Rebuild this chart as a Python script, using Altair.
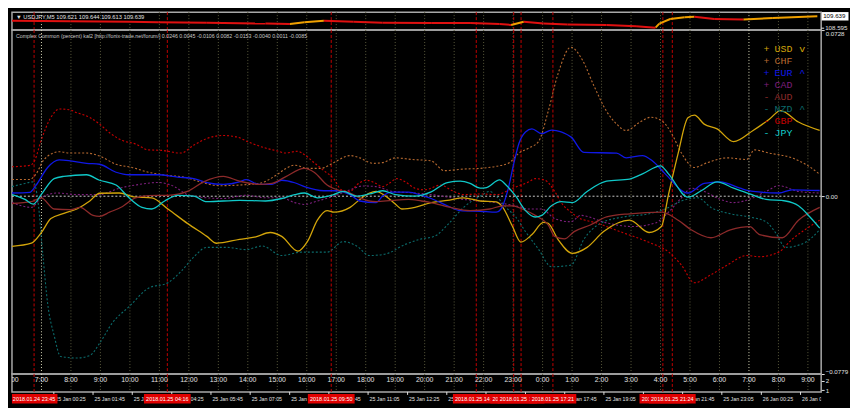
import altair as alt
import numpy as np
import pandas as pd

# ---------------- data: x = hours since 2018-01-25 00:00 (server time) ----------------
USD = [(-1.00,-0.0220),(-0.34,-0.0206),(-0.01,-0.0161),(0.32,-0.0098),(0.76,-0.0075),(1.20,-0.0056),(1.64,-0.0021),(1.97,0.0013),(2.64,0.0014),(3.19,-0.0004),(3.74,-0.0007),(4.29,-0.0056),(4.95,-0.0119),(5.61,-0.0176),(5.94,-0.0206),(6.72,-0.0189),(7.27,-0.0178),(7.76,-0.0159),(8.15,-0.0176),(8.70,-0.0241),(9.03,-0.0197),(9.36,-0.0105),(9.69,-0.0063),(9.92,-0.0070),(10.47,-0.0049),(10.80,-0.0014),(11.13,0.0014),(11.35,0.0021),(11.68,0.0000),(12.01,-0.0035),(12.23,-0.0056),(12.67,-0.0049),(13.22,-0.0028),(13.77,-0.0018),(14.32,-0.0007),(14.88,-0.0021),(15.43,-0.0025),(15.65,-0.0049),(15.98,-0.0133),(16.26,-0.0201),(16.64,-0.0168),(17.03,-0.0115),(17.19,-0.0119),(17.52,-0.0189),(18.01,-0.0250),(18.51,-0.0224),(19.07,-0.0155),(19.95,-0.0105),(20.61,-0.0159),(21.03,-0.0133),(21.27,0.0007),(21.60,0.0189),(21.93,0.0344),(22.15,0.0355),(22.48,0.0316),(22.92,0.0295),(23.48,0.0239),(24.14,0.0288),(24.69,0.0337),(25.07,0.0375),(25.68,0.0325),(26.40,0.0288)]
CHF = [(-1.00,0.0073),(-0.40,0.0073),(-0.18,0.0098),(0.09,0.0161),(0.60,0.0195),(0.98,0.0189),(1.53,0.0189),(1.97,0.0176),(2.53,0.0140),(3.07,0.0126),(3.63,0.0105),(4.29,0.0091),(4.84,0.0084),(5.38,0.0063),(6.04,0.0046),(6.72,0.0049),(7.38,0.0056),(8.03,0.0098),(8.26,0.0119),(8.59,0.0136),(9.03,0.0122),(9.47,0.0122),(9.91,0.0147),(10.47,0.0178),(10.80,0.0168),(11.24,0.0144),(11.57,0.0147),(12.01,0.0168),(12.56,0.0161),(13.22,0.0155),(13.66,0.0112),(14.32,0.0119),(14.88,0.0122),(15.43,0.0131),(15.87,0.0147),(16.20,0.0189),(16.53,0.0211),(16.86,0.0239),(17.19,0.0372),(17.52,0.0535),(17.96,0.0653),(18.35,0.0597),(18.74,0.0484),(19.17,0.0372),(19.51,0.0316),(19.84,0.0288),(20.28,0.0323),(20.67,0.0346),(21.05,0.0330),(21.38,0.0274),(21.71,0.0189),(22.15,0.0126),(22.59,0.0147),(23.26,0.0168),(23.92,0.0161),(24.19,0.0203),(24.69,0.0189),(25.46,0.0168),(26.01,0.0133),(26.40,0.0096)]
EUR = [(-1.00,0.0014),(-0.40,0.0017),(-0.18,0.0049),(0.21,0.0126),(0.60,0.0159),(0.98,0.0155),(1.53,0.0144),(1.97,0.0140),(2.53,0.0105),(2.97,0.0094),(3.96,0.0094),(4.62,0.0084),(5.17,0.0077),(5.61,0.0060),(6.17,0.0052),(6.72,0.0063),(6.94,0.0073),(7.38,0.0052),(7.82,0.0052),(8.15,0.0070),(8.59,0.0059),(8.92,0.0042),(9.58,0.0024),(10.02,0.0024),(10.47,0.0007),(10.80,-0.0021),(11.35,-0.0028),(11.57,0.0000),(11.90,0.0018),(12.45,0.0018),(12.89,0.0004),(13.22,-0.0010),(13.77,-0.0042),(14.21,-0.0063),(14.88,-0.0066),(15.43,-0.0070),(15.59,-0.0056),(15.81,0.0021),(16.03,0.0147),(16.20,0.0232),(16.42,0.0281),(16.64,0.0295),(16.97,0.0274),(17.30,0.0290),(17.96,0.0260),(18.40,0.0192),(19.51,0.0189),(19.84,0.0168),(20.39,0.0178),(20.72,0.0155),(21.16,0.0098),(21.93,0.0014),(22.48,0.0056),(23.04,0.0063),(23.70,0.0035),(24.14,0.0021),(25.02,0.0014),(25.46,0.0028),(26.40,0.0025)]
CAD = [(-1.00,-0.0028),(-0.34,-0.0049),(-0.01,-0.0007),(0.54,0.0014),(1.20,0.0007),(1.97,0.0007),(2.64,0.0035),(3.19,0.0049),(3.96,0.0060),(4.51,0.0042),(4.95,0.0007),(5.61,-0.0007),(6.17,-0.0010),(6.94,0.0004),(7.60,-0.0007),(8.15,-0.0007),(8.59,-0.0028),(8.92,-0.0036),(9.36,-0.0021),(9.91,0.0000),(10.47,0.0028),(10.91,0.0045),(11.35,0.0042),(11.90,0.0021),(12.67,0.0014),(13.22,0.0007),(14.32,-0.0014),(15.43,-0.0028),(16.09,-0.0042),(16.53,-0.0056),(16.97,-0.0056),(17.41,-0.0098),(17.96,-0.0112),(18.29,-0.0084),(19.17,-0.0117),(20.06,-0.0133),(20.83,-0.0117),(21.27,-0.0070),(21.71,-0.0007),(22.04,0.0035),(22.48,0.0021),(23.04,-0.0014),(23.48,-0.0028),(24.14,-0.0007),(24.58,0.0021),(25.02,0.0046),(25.68,0.0021),(26.40,0.0014)]
AUD = [(-1.00,-0.0032),(-0.34,-0.0024),(-0.01,-0.0007),(0.43,-0.0056),(0.98,-0.0059),(1.31,-0.0049),(1.75,-0.0084),(1.97,-0.0088),(2.31,-0.0070),(2.75,-0.0045),(3.19,-0.0007),(3.63,0.0003),(4.29,0.0004),(4.95,0.0021),(5.50,0.0063),(6.17,0.0087),(6.72,0.0066),(7.38,0.0052),(7.82,0.0056),(8.26,0.0084),(8.92,0.0122),(9.25,0.0105),(9.69,0.0049),(10.14,0.0024),(10.47,0.0014),(10.80,-0.0007),(11.35,-0.0024),(11.90,-0.0018),(12.45,-0.0014),(12.89,-0.0021),(13.22,-0.0028),(13.88,-0.0049),(14.54,-0.0063),(15.21,-0.0056),(15.65,-0.0042),(15.98,-0.0042),(16.31,-0.0056),(16.75,-0.0084),(17.19,-0.0126),(17.41,-0.0176),(17.74,-0.0187),(18.07,-0.0155),(18.62,-0.0126),(19.17,-0.0091),(19.95,-0.0077),(21.03,-0.0070),(21.60,-0.0105),(22.04,-0.0147),(22.71,-0.0182),(23.37,-0.0147),(24.03,-0.0133),(24.36,-0.0168),(25.13,-0.0182),(25.68,-0.0105),(26.40,-0.0049)]
NZD = [(-1.00,0.0042),(-0.56,0.0056),(-0.28,0.0063),(-0.12,-0.0021),(0.05,-0.0260),(0.21,-0.0470),(0.43,-0.0610),(0.65,-0.0702),(1.20,-0.0709),(1.64,-0.0698),(1.97,-0.0645),(2.41,-0.0554),(2.97,-0.0484),(3.63,-0.0403),(4.29,-0.0379),(4.73,-0.0330),(5.17,-0.0266),(5.61,-0.0224),(6.28,-0.0224),(6.94,-0.0234),(7.49,-0.0218),(8.15,-0.0260),(8.81,-0.0245),(9.69,-0.0245),(10.24,-0.0199),(10.69,-0.0218),(11.13,-0.0260),(11.68,-0.0253),(12.34,-0.0211),(12.89,-0.0187),(13.33,-0.0176),(13.77,-0.0126),(14.32,-0.0049),(14.88,0.0000),(15.21,0.0021),(15.43,0.0000),(15.76,-0.0049),(16.09,-0.0091),(16.42,-0.0155),(16.86,-0.0232),(17.30,-0.0309),(17.96,-0.0302),(18.40,-0.0189),(18.96,-0.0119),(19.73,-0.0091),(20.61,-0.0077),(21.16,-0.0056),(21.71,-0.0021),(22.26,-0.0007),(22.71,-0.0049),(23.37,-0.0077),(24.03,-0.0091),(24.58,-0.0112),(24.91,-0.0161),(25.24,-0.0224),(25.90,-0.0203),(26.40,-0.0147)]
GBP = [(-1.00,0.0129),(-0.40,0.0135),(-0.23,0.0156),(-0.01,0.0245),(0.32,0.0345),(0.60,0.0382),(0.93,0.0379),(1.20,0.0366),(1.64,0.0345),(1.97,0.0316),(2.31,0.0278),(2.75,0.0244),(3.19,0.0229),(3.63,0.0203),(4.07,0.0201),(4.73,0.0189),(5.17,0.0224),(5.61,0.0253),(6.17,0.0266),(6.61,0.0260),(7.05,0.0236),(7.60,0.0211),(8.04,0.0197),(8.26,0.0189),(8.69,0.0197),(8.92,0.0182),(9.25,0.0147),(9.58,0.0112),(9.91,0.0077),(10.18,0.0028),(10.47,0.0021),(10.69,0.0049),(11.02,0.0070),(11.35,0.0056),(11.57,0.0042),(11.79,0.0056),(12.06,0.0077),(12.34,0.0063),(12.67,0.0035),(13.00,0.0028),(13.55,0.0049),(13.88,0.0028),(14.32,0.0007),(14.88,0.0010),(15.43,0.0007),(15.98,0.0035),(16.53,0.0063),(16.75,0.0077),(17.08,0.0070),(17.41,0.0021),(17.63,-0.0028),(17.96,-0.0070),(18.18,-0.0091),(18.85,-0.0118),(19.73,-0.0160),(20.61,-0.0202),(21.27,-0.0244),(21.71,-0.0302),(22.15,-0.0379),(22.71,-0.0344),(23.26,-0.0302),(23.92,-0.0260),(24.36,-0.0265),(25.02,-0.0244),(25.46,-0.0189),(25.90,-0.0147),(26.40,-0.0105)]
JPY = [(-1.00,0.0007),(-0.56,-0.0014),(-0.28,-0.0035),(-0.01,0.0007),(0.43,0.0077),(0.76,0.0087),(1.53,0.0094),(1.97,0.0070),(2.53,0.0049),(2.97,-0.0007),(3.41,-0.0049),(3.74,-0.0056),(4.18,-0.0021),(4.62,0.0004),(5.17,0.0000),(5.61,-0.0024),(6.72,-0.0018),(7.60,-0.0021),(8.15,-0.0010),(8.59,0.0007),(8.92,0.0014),(9.36,-0.0007),(9.91,0.0007),(10.24,0.0021),(10.69,0.0000),(11.13,0.0010),(11.57,0.0024),(12.01,0.0007),(12.67,0.0000),(13.22,0.0019),(13.77,0.0060),(14.21,0.0066),(14.54,0.0056),(14.88,0.0035),(15.10,0.0038),(15.54,0.0072),(15.76,0.0049),(16.09,0.0000),(16.42,-0.0063),(16.75,-0.0091),(16.97,-0.0084),(17.30,-0.0042),(17.63,-0.0024),(18.01,-0.0028),(18.51,0.0021),(19.17,0.0066),(19.95,0.0075),(20.39,0.0098),(21.00,0.0133),(21.27,0.0098),(21.93,-0.0004),(22.38,0.0024),(22.92,0.0063),(23.48,0.0035),(24.03,0.0010),(24.58,-0.0014),(25.24,-0.0021),(25.68,-0.0042),(26.07,-0.0091),(26.40,-0.0140)]

PRICE = [(-1.00,109.24),(0.98,109.20),(2.97,109.16),(3.96,109.12),(5.61,109.08),(7.60,109.00),(8.43,108.96),(8.92,109.12),(9.58,109.24),(10.58,109.16),(11.57,109.08),(13.22,109.05),(14.54,109.04),(15.54,108.96),(15.93,108.88),(16.36,109.16),(17.03,109.00),(17.85,108.92),(19.17,108.88),(20.17,108.76),(20.83,108.64),(20.96,109.00),(21.33,109.40),(21.82,109.56),(22.15,109.60),(22.82,109.40),(23.81,109.36),(24.81,109.48),(25.46,109.56),(26.32,109.639)]
PRICE_SYMBOL = "USDJPY,M5"
PRICE_OHLC = [109.621, 109.644, 109.613, 109.639]
PRICE_LAST = 109.639
PRICE_LOW = 108.595
PRICE_RANGE = [108.43, 110.00]

CURRENCIES = ["USD", "CHF", "EUR", "CAD", "AUD", "NZD", "GBP", "JPY"]
SERIES = [USD, CHF, EUR, CAD, AUD, NZD, GBP, JPY]
COLORS = ["#D2A40A", "#B86A30", "#1018E6", "#7D1F7D", "#8C2A2A", "#0B6B6B", "#C80000", "#10C8C8"]
DOTTED = ["CHF", "CAD", "NZD", "GBP"]
SIGNS = ["+", "+", "+", "+", "-", "-", "-", "-"]
SUFFIX = ["v", "", "^", "", "", "^", "", ""]
HEADER = "Complex Common (percent) kal2 [http://fonix-trade.net/forum/]"
HEADER_VALUES = ["0.0246", "0.0045", "-0.0106", "0.0082", "-0.0153", "-0.0040", "0.0011", "-0.0085"]
IND_MIN, IND_MAX = -0.0779, 0.0728

HOUR_TICKS = list(range(-1, 27))
HOUR_LABELS = [f"{(t + 7) % 24}:00" for t in HOUR_TICKS]
SESSION_HOURS = [0, 24]

EVENT_H = [-0.25, 4.27, 9.83, 14.75, 16.02, 16.27, 17.35, 21.08, 21.40]
EVENT_LABELS = ["2018.01.24 23:45", "2018.01.25 04:16", "2018.01.25 09:50", "2018.01.25 14:45",
                "2018.01.25 16:01", "2018.01.25 16:16", "2018.01.25 17:21", "2018.01.25 21:05",
                "2018.01.25 21:24"]

DATE_H = [0.42, 1.75, 3.08, 4.42, 5.75, 7.08, 8.42, 9.75, 11.08, 12.42, 13.75, 15.08, 16.42,
          17.75, 19.08, 20.42, 21.75, 23.08, 24.42, 25.75]
DATE_LABELS = ["25 Jan 00:25", "25 Jan 01:45", "25 Jan 03:05", "25 Jan 04:25", "25 Jan 05:45",
               "25 Jan 07:05", "25 Jan 08:25", "25 Jan 09:45", "25 Jan 11:05", "25 Jan 12:25",
               "25 Jan 13:45", "25 Jan 15:05", "25 Jan 16:25", "25 Jan 17:45", "25 Jan 19:05",
               "25 Jan 20:25", "25 Jan 21:45", "25 Jan 23:05", "26 Jan 00:25", "26 Jan 01:45"]

# ---------------- layout ----------------
W = 814
H_TOP, H_IND, H_HOUR, H_DATE = 18, 346, 18, 14
FONT = "Liberation Sans"
TXT = "#E0E0E0"

XS = alt.Scale(domain=[-1.0, 26.45], nice=False, zero=False)


def X(field="h"):
    return alt.X(f"{field}:Q", scale=XS, axis=None)


grid_df = pd.DataFrame({"h": HOUR_TICKS[1:], "light": [t in SESSION_HOURS for t in HOUR_TICKS[1:]]})
event_df = pd.DataFrame({"h": EVENT_H, "label": EVENT_LABELS, "i": range(len(EVENT_H))})


def grid_layers():
    g1 = alt.Chart(grid_df).transform_filter("!datum.light").mark_rule(
        color="#5A5A3C", strokeDash=[1, 2], strokeWidth=1).encode(x=X())
    g2 = alt.Chart(grid_df).transform_filter("datum.light").mark_rule(
        color="#D8D8B8", strokeDash=[1, 2], strokeWidth=1).encode(x=X())
    ev = alt.Chart(event_df).mark_rule(color="#C00000", strokeDash=[3, 2], strokeWidth=1).encode(x=X())
    return [g1, g2, ev]


# ---- price panel ----
p = pd.DataFrame(PRICE, columns=["h", "p"])
seg = pd.DataFrame({"h": p.h.values[:-1], "h2": p.h.values[1:], "p": p.p.values[:-1], "p2": p.p.values[1:]})
seg["up"] = seg.p2 >= seg.p
PS = alt.Scale(domain=PRICE_RANGE, nice=False, zero=False)
price_up = alt.Chart(seg).transform_filter("datum.up").mark_rule(strokeWidth=2, color="#F0A000").encode(
    x=X(), x2="h2:Q", y=alt.Y("p:Q", scale=PS, axis=None), y2="p2:Q")
price_dn = alt.Chart(seg).transform_filter("!datum.up").mark_rule(strokeWidth=2, color="#E01010").encode(
    x=X(), x2="h2:Q", y=alt.Y("p:Q", scale=PS, axis=None), y2="p2:Q")
title_txt = "\u25bc " + PRICE_SYMBOL + "  " + " ".join(f"{v:.3f}" for v in PRICE_OHLC)
price_title = alt.Chart(pd.DataFrame({"t": [title_txt]})).mark_text(
    align="left", baseline="middle", fontSize=5.8, font=FONT, color=TXT).encode(
    x=alt.value(4), y=alt.value(4.5), text="t:N")
lab_df = pd.DataFrame({"p": [PRICE_LAST], "t": [f"{PRICE_LAST:.3f}"]})
low_df = pd.DataFrame({"p": [PRICE_LOW], "t": [f"{PRICE_LOW:.3f}"]})
last_box = alt.Chart(lab_df).mark_tick(orient="vertical", thickness=27, size=8.5, color="#FFFFFF", opacity=1).encode(
    x=alt.value(W + 14), y=alt.Y("p:Q", scale=PS, axis=None))
last_txt = alt.Chart(lab_df).mark_text(align="left", baseline="middle", fontSize=6.2, font=FONT, color="#000000").encode(
    x=alt.value(W + 2), y=alt.Y("p:Q", scale=PS, axis=None), text="t:N")
low_tick = alt.Chart(low_df).mark_rule(color=TXT).encode(
    x=alt.value(W), x2=alt.value(W + 3), y=alt.Y("p:Q", scale=PS, axis=None))
low_txt = alt.Chart(low_df).mark_text(align="left", baseline="middle", fontSize=6.2, font=FONT, color=TXT).encode(
    x=alt.value(W + 4), y=alt.Y("p:Q", scale=PS, axis=None), text="t:N")
top = alt.layer(*grid_layers(), price_up, price_dn, price_title, last_box, last_txt, low_tick, low_txt).properties(
    width=W, height=H_TOP)

# ---- indicator panel ----
rows = []
for cur, pts in zip(CURRENCIES, SERIES):
    for h, v in pts:
        rows.append({"cur": cur, "h": h, "v": v})
ind_df = pd.DataFrame(rows)
IS = alt.Scale(domain=[IND_MIN, IND_MAX], nice=False, zero=False)
CS = alt.Scale(domain=CURRENCIES, range=COLORS)
SOLID = [c for c in CURRENCIES if c not in DOTTED]

ind_axis = alt.Axis(orient="right", values=[IND_MIN, 0, IND_MAX], labelFlush=True,
                    labelExpr="datum.value == 0 ? '0.00' : format(datum.value, '.4f')",
                    labelColor=TXT, labelFontSize=6.2, labelFont=FONT, tickSize=3, tickColor=TXT,
                    domain=False, grid=False, labelPadding=1, title=None)
zero_line = alt.Chart(pd.DataFrame({"v": [0.0]})).mark_rule(color="#C8C8C8", strokeDash=[2, 2]).encode(
    y=alt.Y("v:Q", scale=IS, axis=ind_axis))
lines_dot = alt.Chart(ind_df).transform_filter(alt.FieldOneOfPredicate(field="cur", oneOf=DOTTED)).mark_line(
    strokeWidth=1.1, strokeDash=[2, 2], interpolate="monotone").encode(
    x=X(), y=alt.Y("v:Q", scale=IS, axis=None), color=alt.Color("cur:N", scale=CS, legend=None))
lines_solid = alt.Chart(ind_df).transform_filter(alt.FieldOneOfPredicate(field="cur", oneOf=SOLID)).mark_line(
    strokeWidth=1.3, interpolate="monotone").encode(
    x=X(), y=alt.Y("v:Q", scale=IS, axis=None), color=alt.Color("cur:N", scale=CS, legend=None))
header = alt.Chart(pd.DataFrame({"t": [HEADER + " " + " ".join(HEADER_VALUES)]})).mark_text(
    align="left", baseline="middle", fontSize=5.3, font=FONT, color="#C8C8C8").encode(
    x=alt.value(4), y=alt.value(6), text="t:N")

leg_df = pd.DataFrame({"li": range(len(CURRENCIES)), "cur": CURRENCIES, "sign": SIGNS, "suffix": SUFFIX})
LY = alt.Y("li:Q", scale=alt.Scale(domain=[0, 7], range=[19.2, 103.5], nice=False, zero=False), axis=None)
leg_common = dict(align="left", baseline="middle", fontSize=10, font="Liberation Mono")
leg_sign = alt.Chart(leg_df).mark_text(**leg_common).encode(
    x=alt.value(756), y=LY, text="sign:N", color=alt.Color("cur:N", scale=CS, legend=None))
leg_name = alt.Chart(leg_df).mark_text(**leg_common).encode(
    x=alt.value(767), y=LY, text="cur:N", color=alt.Color("cur:N", scale=CS, legend=None))
leg_suf = alt.Chart(leg_df).mark_text(**leg_common).encode(
    x=alt.value(792), y=LY, text="suffix:N", color=alt.Color("cur:N", scale=CS, legend=None))

ind = alt.layer(*grid_layers(), zero_line, lines_dot, lines_solid, header, leg_sign, leg_name, leg_suf).resolve_scale(
    y="independent").properties(width=W, height=H_IND)

# ---- hour panel ----
HS = alt.Scale(domain=[1, 2], range=[16.3, 6.5], nice=False, zero=False)
hour_df = pd.DataFrame({"h": HOUR_TICKS, "label": HOUR_LABELS})
hour_axis = alt.Axis(orient="right", values=[1, 2], format="d", labelColor=TXT, labelFontSize=6.2, labelFont=FONT,
                     tickSize=3, tickColor=TXT, domain=False, grid=False, labelPadding=1, title=None,
                     labelBaseline="middle")
hour_txt = alt.Chart(hour_df).mark_text(baseline="middle", fontSize=7, font=FONT, color=TXT, clip=True).encode(
    x=X(), y=alt.YDatum(2, scale=HS, axis=hour_axis), text="label:N")
hour = alt.layer(*grid_layers(), hour_txt).properties(width=W, height=H_HOUR)

# ---- date strip ----
date_df = pd.DataFrame({"h": DATE_H, "label": DATE_LABELS})
d_tick = alt.Chart(date_df).mark_rule(color=TXT).encode(x=X(), y=alt.value(0), y2=alt.value(3))
d_txt = alt.Chart(date_df).mark_text(align="left", baseline="middle", dx=1.5, fontSize=5.3, font=FONT,
                                     color=TXT, clip=True).encode(x=X(), y=alt.value(7), text="label:N")
date_layers = [d_tick, d_txt]
for i in range(len(EVENT_H)):
    base = alt.Chart(event_df).transform_filter(f"datum.i == {i}")
    date_layers.append(base.mark_tick(orient="vertical", thickness=47, size=9.5, color="#E00000", opacity=1,
                                      clip=True).encode(x=X(), y=alt.value(6.8)))
    date_layers.append(base.mark_text(baseline="middle", fontSize=5.5, font=FONT, color="#FFFFFF", clip=True).encode(
        x=X(), y=alt.value(7), text="label:N"))
date = alt.layer(*date_layers).properties(width=W, height=H_DATE,
                                          view=alt.ViewBackground(stroke="transparent"))

chart = alt.vconcat(top, ind, hour, date, spacing=0, bounds="flush").properties(
    background="#000000", padding={"left": 0, "top": 1, "right": 0, "bottom": 0}
).configure_view(stroke="#A8A8A8", strokeWidth=1.5)

chart.save("out.html", embed_options={"renderer": "svg", "actions": False})
